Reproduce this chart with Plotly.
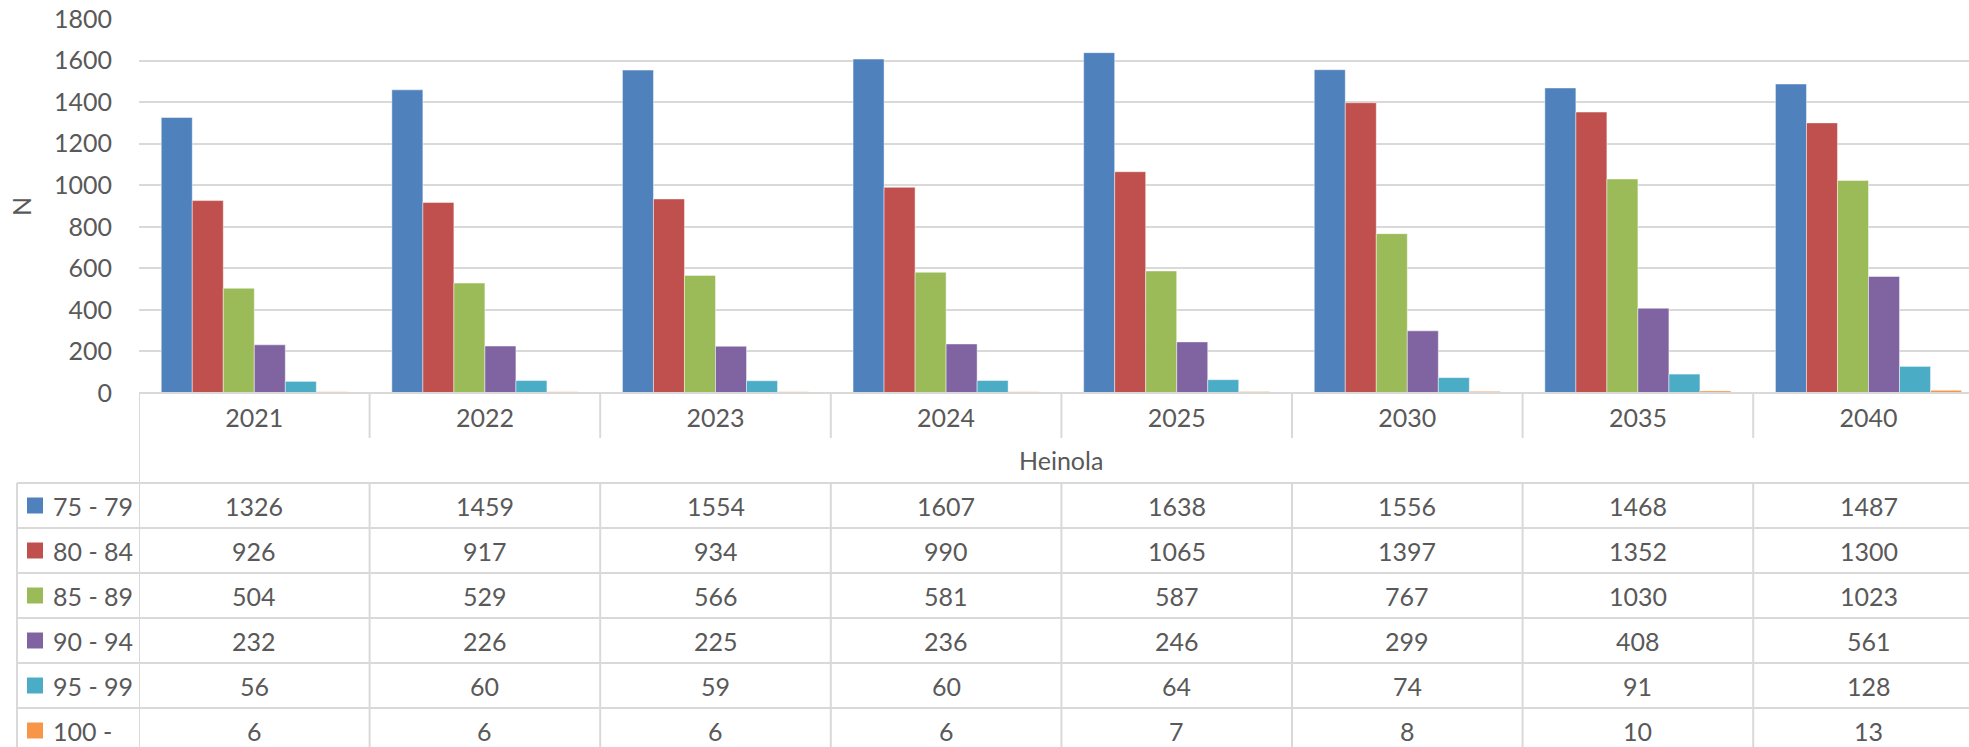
import plotly.graph_objects as go

# Age-group populations for Heinola, by year
years = ["2021", "2022", "2023", "2024", "2025", "2030", "2035", "2040"]
age_groups = ["75 - 79", "80 - 84", "85 - 89", "90 - 94", "95 - 99", "100 -"]
age_75_79 = [1326, 1459, 1554, 1607, 1638, 1556, 1468, 1487]
age_80_84 = [926, 917, 934, 990, 1065, 1397, 1352, 1300]
age_85_89 = [504, 529, 566, 581, 587, 767, 1030, 1023]
age_90_94 = [232, 226, 225, 236, 246, 299, 408, 561]
age_95_99 = [56, 60, 59, 60, 64, 74, 91, 128]
age_100 = [6, 6, 6, 6, 7, 8, 10, 13]
y_ticks = [0, 200, 400, 600, 800, 1000, 1200, 1400, 1600, 1800]

series = [age_75_79, age_80_84, age_85_89, age_90_94, age_95_99, age_100]
colors = ["#4F81BD", "#C0504D", "#9BBB59", "#8064A2", "#4BACC6", "#F79646"]

W, H = 1969, 747
FONT = "Lato"
TXT = "#595959"
GRID = "#D9D9D9"

# pixel layout
plot_left = 139
plot_top = 19
plot_bottom = 393
cat_w = 230.6
table_left = 17
legend_text_x = 51
row_tops = [483, 528, 573, 618, 663, 708]
row_h = 45


def py(y):
    return 1 - y / H


def px(x):
    return x / W


fig = go.Figure()
for name, vals, col in zip(age_groups, series, colors):
    fig.add_trace(go.Bar(
        x=years, y=vals, name=name,
        marker=dict(color=col, line=dict(color="rgba(255,255,255,0.45)", width=1)),
    ))

shapes = []
annotations = []

# axis baseline
shapes.append(dict(type="line", xref="paper", yref="paper",
                   x0=px(plot_left), x1=1, y0=py(plot_bottom), y1=py(plot_bottom),
                   line=dict(color=GRID, width=2)))
# table horizontal rules
for yt in row_tops:
    shapes.append(dict(type="line", xref="paper", yref="paper",
                       x0=px(table_left), x1=1, y0=py(yt), y1=py(yt),
                       line=dict(color=GRID, width=2)))
# table left edge
shapes.append(dict(type="line", xref="paper", yref="paper",
                   x0=px(table_left), x1=px(table_left), y0=py(row_tops[0]), y1=0,
                   line=dict(color=GRID, width=2)))
# category dividers
for k in range(len(years) + 1):
    xv = k - 0.5
    if k == 0:
        shapes.append(dict(type="line", xref="x", yref="paper",
                           x0=xv, x1=xv, y0=py(plot_bottom), y1=0,
                           line=dict(color=GRID, width=2)))
    else:
        shapes.append(dict(type="line", xref="x", yref="paper",
                           x0=xv, x1=xv, y0=py(plot_bottom), y1=py(438),
                           line=dict(color=GRID, width=2)))
        shapes.append(dict(type="line", xref="x", yref="paper",
                           x0=xv, x1=xv, y0=py(row_tops[0]), y1=0,
                           line=dict(color=GRID, width=2)))

# legend keys and table values
for r, (name, vals, col) in enumerate(zip(age_groups, series, colors)):
    yc = row_tops[r] + row_h / 2
    shapes.append(dict(type="rect", xref="paper", yref="paper",
                       x0=px(27), x1=px(43), y0=py(yc + 8), y1=py(yc - 8),
                       fillcolor=col, line=dict(width=0)))
    annotations.append(dict(x=px(legend_text_x), y=py(yc), xref="paper", yref="paper",
                            text=name, showarrow=False, xanchor="left", yanchor="middle",
                            font=dict(family=FONT, size=25, color=TXT)))
    for i, v in enumerate(vals):
        annotations.append(dict(x=i, y=py(yc), xref="x", yref="paper",
                                text=str(v), showarrow=False, xanchor="center", yanchor="middle",
                                font=dict(family=FONT, size=25, color=TXT)))

# group axis title
x_end = -0.5 + (W - plot_left) / cat_w
annotations.append(dict(x=(len(years) - 1) / 2, y=py(460), xref="x", yref="paper",
                        text="Heinola", showarrow=False, xanchor="center", yanchor="middle",
                        font=dict(family=FONT, size=25, color=TXT)))
# y axis title
annotations.append(dict(x=px(21), y=py(207), xref="paper", yref="paper",
                        text="N", showarrow=False, textangle=-90,
                        xanchor="center", yanchor="middle",
                        font=dict(family=FONT, size=25, color=TXT)))

fig.update_layout(
    width=W, height=H,
    margin=dict(l=0, r=0, t=0, b=0, autoexpand=False),
    paper_bgcolor="white", plot_bgcolor="white",
    barmode="group", bargap=0.193, bargroupgap=0,
    showlegend=False,
    font=dict(family=FONT, size=25, color=TXT),
    shapes=shapes, annotations=annotations,
    xaxis=dict(domain=[px(plot_left), 1], range=[-0.5, x_end], automargin=False,
               type="category", showgrid=False, zeroline=False, showline=False,
               ticks="", ticklabelstandoff=8,
               tickfont=dict(family=FONT, size=25, color=TXT)),
    yaxis=dict(domain=[py(plot_bottom), py(plot_top)], range=[0, 1800], automargin=False,
               tickvals=y_ticks, showgrid=True, gridcolor=GRID, gridwidth=2,
               zeroline=False, showline=False, ticks="", ticklabelstandoff=26,
               tickfont=dict(family=FONT, size=25, color=TXT)),
)

fig.write_html("out.html")
